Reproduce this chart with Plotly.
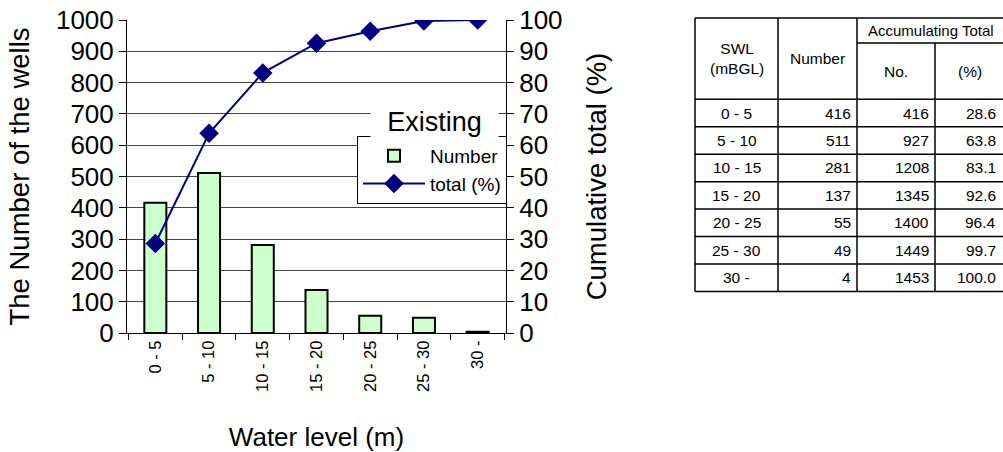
import plotly.graph_objects as go

# ---- data ----
categories = ["0 - 5", "5 - 10", "10 - 15", "15 - 20", "20 - 25", "25 - 30", "30 -"]
numbers = [416, 511, 281, 137, 55, 49, 4]
acc_numbers = [416, 927, 1208, 1345, 1400, 1449, 1453]
acc_percent = [28.6, 63.8, 83.1, 92.6, 96.4, 99.7, 100.0]

W, H = 1003, 452
L, R, T, B = 127, 506, 20, 333  # plot area in pixels


def px(x):
    return (x - L) / (R - L)


def py(y):
    return (B - y) / (B - T)


FONT = "Arial, Liberation Sans, sans-serif"

fig = go.Figure()
fig.add_trace(go.Bar(
    x=categories, y=numbers, name="Number", yaxis="y",
    marker=dict(color="#CCFFCC", line=dict(color="black", width=2)),
))
fig.add_trace(go.Scatter(
    x=categories, y=acc_percent, name="total (%)", yaxis="y2",
    mode="lines+markers",
    line=dict(color="#000080", width=2),
    marker=dict(symbol="diamond", size=15, color="#000080"),
))

fig.update_layout(
    width=W, height=H,
    margin=dict(l=L, r=W - R, t=T, b=H - B, pad=0, autoexpand=False),
    paper_bgcolor="white", plot_bgcolor="white",
    bargap=0.59,
    font=dict(family=FONT, color="black"),
    showlegend=True,
    xaxis=dict(
        type="category", tickangle=-90, tickson="boundaries",
        ticks="outside", ticklen=6, tickcolor="black",
        showline=True, linecolor="black", linewidth=1,
        showgrid=False, tickfont=dict(size=16.5),
        title=dict(text="Water level (m)", font=dict(size=26), standoff=37),
    ),
    yaxis=dict(
        range=[0, 1000], dtick=100, ticks="outside", ticklen=7, tickcolor="black",
        showline=True, linecolor="black", linewidth=1,
        showgrid=True, gridcolor="#444444", gridwidth=1, zeroline=False,
        tickfont=dict(size=26),
        title=dict(text="The Number of the wells", font=dict(size=27.5), standoff=18),
    ),
    yaxis2=dict(
        overlaying="y", side="right", range=[0, 100], dtick=10,
        ticks="outside", ticklen=7, tickcolor="black",
        showline=True, linecolor="black", linewidth=1,
        showgrid=False, zeroline=False,
        tickfont=dict(size=26),
        title=dict(text="Cumulative total (%)", font=dict(size=27.5), standoff=25),
    ),
    legend=dict(
        x=px(357), y=py(136), xanchor="left", yanchor="top",
        bordercolor="black", borderwidth=1, bgcolor="white",
        font=dict(size=19), itemwidth=62,
    ),
)

# "Existing" legend heading
fig.add_annotation(
    x=px(434), y=py(122), xref="paper", yref="paper", text="Existing",
    showarrow=False, font=dict(size=27), bgcolor="white", width=125,
    xanchor="center", yanchor="middle",
)

# ---- data table (drawn to the right) ----
cx = [695, 778, 857, 935, 1005]
top, sub, hb = 18, 43, 99.3
rh = 27.45
n = len(categories)
bottom = hb + rh * n


def hline(x0, x1, y, w=1.5):
    fig.add_shape(type="line", xref="paper", yref="paper",
                  x0=px(x0), x1=px(x1), y0=py(y), y1=py(y),
                  line=dict(color="black", width=w))


def vline(x, y0, y1, w=1.5):
    fig.add_shape(type="line", xref="paper", yref="paper",
                  x0=px(x), x1=px(x), y0=py(y0), y1=py(y1),
                  line=dict(color="black", width=w))


hline(cx[0], cx[4], top)
hline(cx[2], cx[4], sub)
hline(cx[0], cx[4], hb)
for k in range(1, n + 1):
    hline(cx[0], cx[4], hb + rh * k)
vline(cx[0], top, bottom)
vline(cx[1], top, bottom)
vline(cx[2], top, bottom)
vline(cx[3], sub, bottom)


def text(x, y, s, size=15.5, anchor="center"):
    fig.add_annotation(x=px(x), y=py(y), xref="paper", yref="paper", text=s,
                       showarrow=False, font=dict(size=size),
                       xanchor=anchor, yanchor="middle")


text((cx[0] + cx[1]) / 2, (top + hb) / 2, "SWL<br>(mBGL)", size=15.5)
text((cx[1] + cx[2]) / 2, (top + hb) / 2, "Number", size=15.5)
text((cx[2] + cx[4]) / 2, (top + sub) / 2, "Accumulating Total", size=15)
text((cx[2] + cx[3]) / 2, (sub + hb) / 2, "No.", size=15.5)
text((cx[3] + cx[4]) / 2, (sub + hb) / 2, "(%)", size=15.5)

for i in range(n):
    yc = hb + rh * (i + 0.5)
    text((cx[0] + cx[1]) / 2, yc, categories[i])
    text(cx[2] - 4, yc, str(numbers[i]), anchor="right")
    text(cx[3] - 4, yc, str(acc_numbers[i]), anchor="right")
    text(998, yc, f"{acc_percent[i]:.1f}", anchor="right")

fig.write_html("out.html")
